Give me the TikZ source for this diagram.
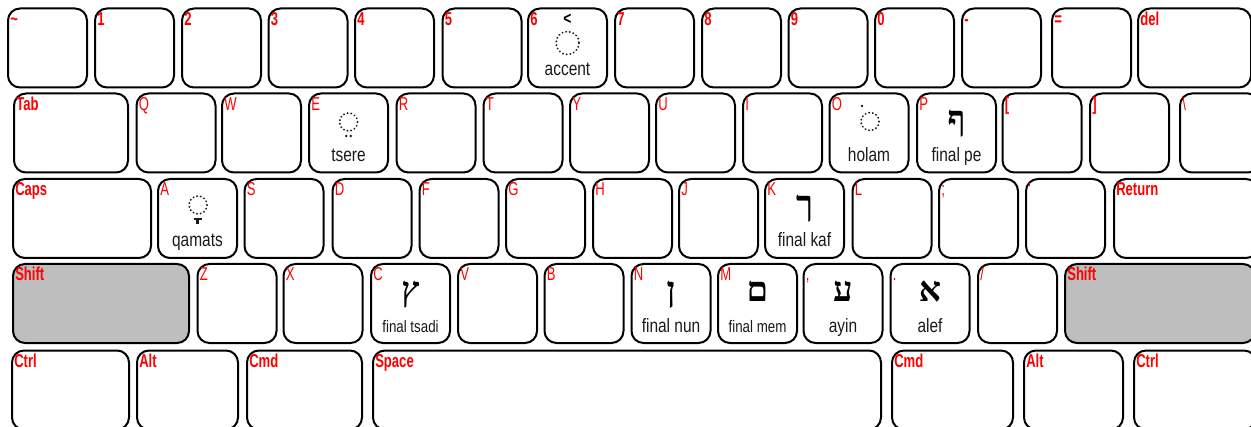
\documentclass[tikz,border=0pt]{standalone}
\usepackage{fontspec}
\usepackage{xcolor}
\usepackage{tikz}
\usetikzlibrary{calc}
\TeXXeTstate=1
\newfontfamily\keyfont[FakeStretch=0.8]{Liberation Sans}
\newfontfamily\capfont[FakeStretch=0.7]{Liberation Sans}
\newfontfamily\hebfont[Script=Hebrew]{Liberation Serif}
\definecolor{KeyRed}{HTML}{FF0000}
\definecolor{ShiftGray}{HTML}{BEBEBE}
\definecolor{KeyInk}{HTML}{1A1A1A}
\tikzset{
  keycap/.style={draw=black, line width=1.5pt, rounded corners=9pt, fill=white,
    minimum width=#1*0.75pt, minimum height=59.25pt, inner sep=0pt},
  keycap/.default=79,
  modcap/.style={keycap=#1, fill=ShiftGray},
  keylabel/.style={anchor=base west, inner sep=0pt, xshift=2.25pt, yshift=-13.5pt,
    text=KeyRed, font=\capfont\fontsize{14}{15}\selectfont},
  keybold/.style={keylabel, font=\capfont\bfseries\fontsize{14}{15}\selectfont},
  glyphname/.style={anchor=base, inner sep=0pt, text=KeyInk, font=\keyfont\fontsize{14.5}{16}\selectfont},
  glyphsmall/.style={glyphname, font=\keyfont\fontsize{12.5}{14}\selectfont},
  hebglyph/.style={anchor=base, inner sep=0pt, text=black, font=\hebfont\bfseries\fontsize{26}{28}\selectfont},
  placeholder/.style={draw=KeyInk, line width=1.4pt, dash pattern=on 0.2pt off 2.6pt, line cap=round},
  pointdot/.style={fill=KeyInk, draw=none}
}

\begin{document}
\begin{tikzpicture}[x=0.75pt, y=-0.75pt]
\useasboundingbox (0,0) rectangle (1251,427);
\fill[white] (0,0) rectangle (1251,427);
\clip (0,0) rectangle (1251,427);

\node[keycap] (kTilde) at (47.5,48) {};   \node[keybold] at (kTilde.north west) {\textasciitilde};
\node[keycap] (k1) at (134.5,48) {};      \node[keybold] at (k1.north west) {1};
\node[keycap] (k2) at (221.5,48) {};      \node[keybold] at (k2.north west) {2};
\node[keycap] (k3) at (308,48) {};        \node[keybold] at (k3.north west) {3};
\node[keycap] (k4) at (394.5,48) {};      \node[keybold] at (k4.north west) {4};
\node[keycap] (k5) at (482,48) {};        \node[keybold] at (k5.north west) {5};
\node[keycap] (k6) at (567.5,48) {};      \node[keybold] at (k6.north west) {6};
\node[keycap] (k7) at (654.5,48) {};      \node[keybold] at (k7.north west) {7};
\node[keycap] (k8) at (741.5,48) {};      \node[keybold] at (k8.north west) {8};
\node[keycap] (k9) at (828,48) {};        \node[keybold] at (k9.north west) {9};
\node[keycap] (k0) at (914.5,48) {};      \node[keybold] at (k0.north west) {0};
\node[keycap] (kMinus) at (1001.5,48) {}; \node[keybold] at (kMinus.north west) {-};
\node[keycap] (kEqual) at (1091.5,48) {}; \node[keybold] at (kEqual.north west) {=};
\node[keycap=113] (kDel) at (1194.5,48) {}; \node[keybold] at (kDel.north west) {del};

\node[keycap=114] (kTab) at (71,133) {};  \node[keybold] at (kTab.north west) {Tab};
\node[keycap] (kQ) at (176,133) {};       \node[keylabel] at (kQ.north west) {Q};
\node[keycap] (kW) at (261.5,133) {};     \node[keylabel] at (kW.north west) {W};
\node[keycap] (kE) at (348.5,133) {};     \node[keylabel] at (kE.north west) {E};
\node[keycap] (kR) at (436,133) {};       \node[keylabel] at (kR.north west) {R};
\node[keycap] (kT) at (523,133) {};       \node[keylabel] at (kT.north west) {T};
\node[keycap] (kY) at (609.5,133) {};     \node[keylabel] at (kY.north west) {Y};
\node[keycap] (kU) at (695.5,133) {};     \node[keylabel] at (kU.north west) {U};
\node[keycap] (kI) at (782.5,133) {};     \node[keylabel] at (kI.north west) {I};
\node[keycap] (kO) at (869,133) {};       \node[keylabel] at (kO.north west) {O};
\node[keycap] (kP) at (956.5,133) {};     \node[keylabel] at (kP.north west) {P};
\node[keycap] (kLBrack) at (1042,133) {}; \node[keybold] at (kLBrack.north west) {[};
\node[keycap] (kRBrack) at (1129.5,133) {}; \node[keybold] at (kRBrack.north west) {]};
\node[keycap=80] (kBslash) at (1220,133) {}; \node[keylabel] at (kBslash.north west) {\textbackslash};

\node[keycap=138] (kCaps) at (82,218.5) {}; \node[keybold] at (kCaps.north west) {Caps};
\node[keycap] (kA) at (197.5,218.5) {};   \node[keylabel] at (kA.north west) {A};
\node[keycap] (kS) at (284,218.5) {};     \node[keylabel] at (kS.north west) {S};
\node[keycap] (kD) at (372,218.5) {};     \node[keylabel] at (kD.north west) {D};
\node[keycap] (kF) at (459,218.5) {};     \node[keylabel] at (kF.north west) {F};
\node[keycap] (kG) at (545.5,218.5) {};   \node[keylabel] at (kG.north west) {G};
\node[keycap] (kH) at (632.5,218.5) {};   \node[keylabel] at (kH.north west) {H};
\node[keycap] (kJ) at (718.5,218.5) {};   \node[keylabel] at (kJ.north west) {J};
\node[keycap] (kK) at (804.5,218.5) {};   \node[keylabel] at (kK.north west) {K};
\node[keycap] (kL) at (892,218.5) {};     \node[keylabel] at (kL.north west) {L};
\node[keycap] (kSemi) at (978.5,218.5) {}; \node[keylabel] at (kSemi.north west) {;};
\node[keycap] (kQuote) at (1065.5,218.5) {}; \node[keylabel] at (kQuote.north west) {'};
\node[keycap=144] (kReturn) at (1186,218.5) {}; \node[keybold] at (kReturn.north west) {Return};

\node[modcap=176] (kShiftL) at (101,303.5) {}; \node[keybold] at (kShiftL.north west) {Shift};
\node[keycap] (kZ) at (237,303.5) {};     \node[keylabel] at (kZ.north west) {Z};
\node[keycap] (kX) at (323,303.5) {};     \node[keylabel] at (kX.north west) {X};
\node[keycap] (kC) at (410.5,303.5) {};   \node[keylabel] at (kC.north west) {C};
\node[keycap] (kV) at (497.5,303.5) {};   \node[keylabel] at (kV.north west) {V};
\node[keycap] (kB) at (584,303.5) {};     \node[keylabel] at (kB.north west) {B};
\node[keycap] (kN) at (671,303.5) {};     \node[keylabel] at (kN.north west) {N};
\node[keycap] (kM) at (757.5,303.5) {};   \node[keylabel] at (kM.north west) {M};
\node[keycap] (kComma) at (843,303.5) {}; \node[keylabel] at (kComma.north west) {,};
\node[keycap] (kPeriod) at (930,303.5) {}; \node[keylabel] at (kPeriod.north west) {.};
\node[keycap] (kSlash) at (1017.5,303.5) {}; \node[keylabel] at (kSlash.north west) {/};
\node[modcap=190] (kShiftR) at (1160,303.5) {}; \node[keybold] at (kShiftR.north west) {Shift};

\node[keycap=117] (kCtrlL) at (70.5,390) {}; \node[keybold] at (kCtrlL.north west) {Ctrl};
\node[keycap=101] (kAltL) at (187.5,390) {}; \node[keybold] at (kAltL.north west) {Alt};
\node[keycap=115] (kCmdL) at (304.5,390) {}; \node[keybold] at (kCmdL.north west) {Cmd};
\node[keycap=508] (kSpace) at (627,390) {};  \node[keybold] at (kSpace.north west) {Space};
\node[keycap=121] (kCmdR) at (952.5,390) {}; \node[keybold] at (kCmdR.north west) {Cmd};
\node[keycap=99] (kAltR) at (1073.5,390) {}; \node[keybold] at (kAltR.north west) {Alt};
\node[keycap=122] (kCtrlR) at (1195,390) {}; \node[keybold] at (kCtrlR.north west) {Ctrl};

\node[inner sep=0pt, text=black, font=\keyfont\bfseries\fontsize{13}{14}\selectfont] (accMark) at ($(k6.north)+(0,11.5)$) {<};
\draw[placeholder] ($(k6.north)+(0,35.5)$) circle[radius=11.5];
\node[glyphname] (accName) at ($(k6.north)+(0,68)$) {accent};

\draw[placeholder] ($(kE.north)+(0,29.5)$) circle[radius=9];
\fill[pointdot] ($(kE.north)+(-2.2,43.5)$) circle[radius=1.4];
\fill[pointdot] ($(kE.north)+(2.2,43.5)$) circle[radius=1.4];
\node[glyphname] (tsereName) at ($(kE.north)+(0,69)$) {tsere};

\fill[pointdot] ($(kO.north)+(-7,13.5)$) circle[radius=1.4];
\draw[placeholder] ($(kO.north)+(1,29)$) circle[radius=9];
\node[glyphname] (holamName) at ($(kO.north)+(0,69)$) {holam};

\node[hebglyph] (finalPe) at ($(kP.north)+(0,38)$) {\beginR ף\endR};
\node[glyphname] (finalPeName) at ($(kP.north)+(0,69)$) {final pe};

\draw[placeholder] ($(kA.north)+(0.5,27)$) circle[radius=9];
\fill[pointdot] ($(kA.north)+(-4,40)$) rectangle ($(kA.north)+(4,42.2)$);
\fill[pointdot] ($(kA.north)+(-1.1,42)$) rectangle ($(kA.north)+(1.1,46)$);
\node[glyphname] (qamatsName) at ($(kA.north)+(0,69)$) {qamats};

\node[hebglyph] (finalKaf) at ($(kK.north)+(0,38)$) {\beginR ך\endR};
\node[glyphname] (finalKafName) at ($(kK.north)+(0,69)$) {final kaf};

\node[hebglyph] (finalTsadi) at ($(kC.north)+(0,38)$) {\beginR ץ\endR};
\node[glyphsmall] (finalTsadiName) at ($(kC.north)+(0,69)$) {final tsadi};

\node[hebglyph] (finalNun) at ($(kN.north)+(0,38)$) {\beginR ן\endR};
\node[glyphname] (finalNunName) at ($(kN.north)+(0,69)$) {final nun};

\node[hebglyph] (finalMem) at ($(kM.north)+(0,38)$) {\beginR ם\endR};
\node[glyphsmall] (finalMemName) at ($(kM.north)+(0,69)$) {final mem};

\node[hebglyph] (ayinGlyph) at ($(kComma.north)+(0,38)$) {\beginR ע\endR};
\node[glyphname] (ayinName) at ($(kComma.north)+(0,69)$) {ayin};

\node[hebglyph] (alefGlyph) at ($(kPeriod.north)+(0,38)$) {\beginR א\endR};
\node[glyphname] (alefName) at ($(kPeriod.north)+(0,69)$) {alef};
\end{tikzpicture}
\end{document}
